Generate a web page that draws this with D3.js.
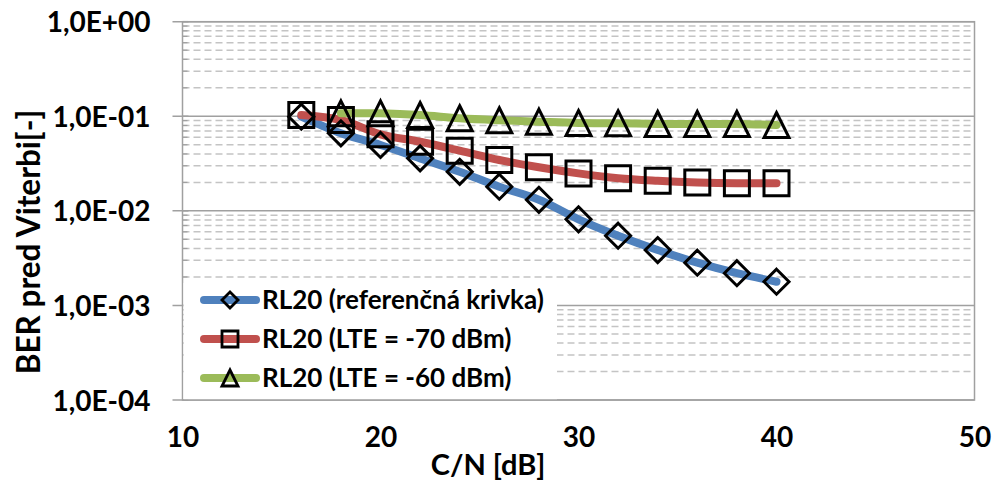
<!DOCTYPE html>
<html><head><meta charset="utf-8">
<script src="https://cdn.jsdelivr.net/npm/d3@7/dist/d3.min.js"></script>
<style>
html,body{margin:0;padding:0;background:#fff;}
svg{display:block;font-family:Lato,"Open Sans",sans-serif;font-weight:700;}
</style></head>
<body>
<svg id="chart" width="994" height="484"></svg>
<script>
// ---- data ----
const cnRef = [16,18,20,22,24,26,28,30,32,34,36,38,40];
const berRef = [0.0990,0.0661,0.0497,0.0359,0.0259,0.0180,0.0131,0.00814,0.00546,0.00385,0.00283,0.00219,0.00178];
const cnLte70 = [16,18,20,22,24,26,28,30,32,34,36,38,40];
const berLte70 = [0.1031,0.0913,0.0645,0.0538,0.0433,0.0345,0.0289,0.0249,0.0221,0.0208,0.0200,0.0196,0.0196];
const cnLte60 = [18,20,22,24,26,28,30,32,34,36,38,40];
const berLte60 = [0.1075,0.1075,0.1031,0.0952,0.0907,0.0876,0.0849,0.0843,0.0829,0.0829,0.0829,0.0809];
const seriesNames = ["RL20 (referenčná krivka)","RL20 (LTE = -70 dBm)","RL20 (LTE = -60 dBm)"];
const xTicks = [10,20,30,40,50];
const yTicks = [1,0.1,0.01,0.001,0.0001];
const yTickLabels = ["1,0E+00","1,0E-01","1,0E-02","1,0E-03","1,0E-04"];
const xTitle = "C/N [dB]";
const yTitle = "BER pred Viterbi[-]";

// ---- layout ----
const L = 182.5, R = 974.5, T = 21.7, B = 400;
const svg = d3.select("#chart");
const x = d3.scaleLinear().domain([10,50]).range([L,R]);
const y = d3.scaleLog().domain([1e-4,1]).range([B,T]);

const colors = ["#4f81bd","#c0504d","#9bbb59"];
const shapes = ["diamond","square","triangle"];
const series = [
  {name:seriesNames[0], xs:cnRef, ys:berRef},
  {name:seriesNames[1], xs:cnLte70, ys:berLte70},
  {name:seriesNames[2], xs:cnLte60, ys:berLte60}
].map((s,i)=>({...s, color:colors[i], shape:shapes[i], pts:s.xs.map((v,j)=>[v,s.ys[j]])}));

// minor gridlines
const minor = [];
for (let e=-4; e<0; e++) for (let k=2; k<=9; k++) minor.push(k*Math.pow(10,e));
svg.append("g").selectAll("line").data(minor).join("line")
  .attr("x1",L).attr("x2",R).attr("y1",d=>y(d)).attr("y2",d=>y(d))
  .attr("stroke","#c4c4c4").attr("stroke-width",1.5).attr("stroke-dasharray","7 4");
// major gridlines
svg.append("g").selectAll("line").data(yTicks).join("line")
  .attr("x1",L-10).attr("x2",R).attr("y1",d=>y(d)).attr("y2",d=>y(d))
  .attr("stroke","#a0a0a0").attr("stroke-width",1.5);
// plot border
svg.append("rect").attr("x",L).attr("y",T).attr("width",R-L).attr("height",B-T)
  .attr("fill","none").attr("stroke","#a0a0a0").attr("stroke-width",1.5);
// y axis ticks
svg.append("g").selectAll("line").data(minor).join("line")
  .attr("x1",L).attr("x2",L+5).attr("y1",d=>y(d)).attr("y2",d=>y(d))
  .attr("stroke","#a0a0a0").attr("stroke-width",1.2);
svg.append("g").selectAll("line").data(yTicks).join("line")
  .attr("x1",L).attr("x2",L+6).attr("y1",d=>y(d)).attr("y2",d=>y(d))
  .attr("stroke","#a0a0a0").attr("stroke-width",1.5);

// y tick labels via axis
const yAxis = d3.axisLeft(y).tickValues(yTicks).tickFormat((d,i)=>yTickLabels[i]).tickSize(0).tickPadding(32);
const gy = svg.append("g").attr("transform",`translate(${L},0)`).call(yAxis);
gy.select(".domain").remove();
gy.selectAll("text").attr("font-size",28).attr("font-family","Lato").attr("font-weight",700).attr("fill","#000").attr("dy","0.36em");

// x tick labels via axis
const xAxis = d3.axisBottom(x).tickValues(xTicks).tickFormat(d3.format("d")).tickSize(0).tickPadding(0);
const gx = svg.append("g").attr("transform",`translate(0,${B})`).call(xAxis);
gx.select(".domain").remove();
gx.selectAll("text").attr("font-size",28).attr("font-family","Lato").attr("font-weight",700).attr("fill","#000").attr("y",47).attr("dy",null);

// titles
svg.append("text").attr("x",488).attr("y",475).attr("text-anchor","middle")
  .attr("font-size",29).attr("fill","#000").text(xTitle);
svg.append("text").attr("transform","translate(40,242) rotate(-90)").attr("text-anchor","middle")
  .attr("font-size",31.5).attr("fill","#000").text(yTitle);

// marker path generator
function markerPath(shape, s){
  const h=s/2;
  if(shape==="diamond") return `M0,${-h}L${h},0L0,${h}L${-h},0Z`;
  if(shape==="square") return `M${-h},${-h}H${h}V${h}H${-h}Z`;
  return `M0,${-h}L${h},${h}L${-h},${h}Z`;
}

// lines
const line = d3.line().x(d=>x(d[0])).y(d=>y(d[1])).curve(d3.curveCatmullRom.alpha(0.5));
const gs = svg.append("g");
series.forEach(s=>{
  gs.append("path").datum(s.pts).attr("d",line).attr("fill","none")
    .attr("stroke",s.color).attr("stroke-width",8).attr("stroke-linecap","round").attr("stroke-linejoin","round");
});
series.forEach(s=>{
  gs.append("g").selectAll("path").data(s.pts).join("path")
    .attr("transform",d=>`translate(${x(d[0])},${y(d[1])})`)
    .attr("d",markerPath(s.shape, s.shape==="triangle"?25:25))
    .attr("fill","none").attr("stroke","#000").attr("stroke-width",3).attr("stroke-linejoin","miter");
});

// legend
const lg = svg.append("g");
lg.append("rect").attr("x",L+1).attr("y",283).attr("width",557-L-1).attr("height",B-283-0.8).attr("fill","#fff");
const rowY = [300,339,378];
series.forEach((s,i)=>{
  const g = lg.append("g").attr("transform",`translate(0,${rowY[i]})`);
  g.append("line").attr("x1",204).attr("x2",256).attr("y1",0).attr("y2",0)
    .attr("stroke",s.color).attr("stroke-width",8).attr("stroke-linecap","round");
  g.append("path").attr("transform","translate(230,0)").attr("d",markerPath(s.shape,16))
    .attr("fill","none").attr("stroke","#000").attr("stroke-width",2.8);
  g.append("text").attr("x",262).attr("y",0).attr("dy","0.36em").attr("font-size",26).attr("fill","#000").text(s.name);
});
</script>
</body></html>
